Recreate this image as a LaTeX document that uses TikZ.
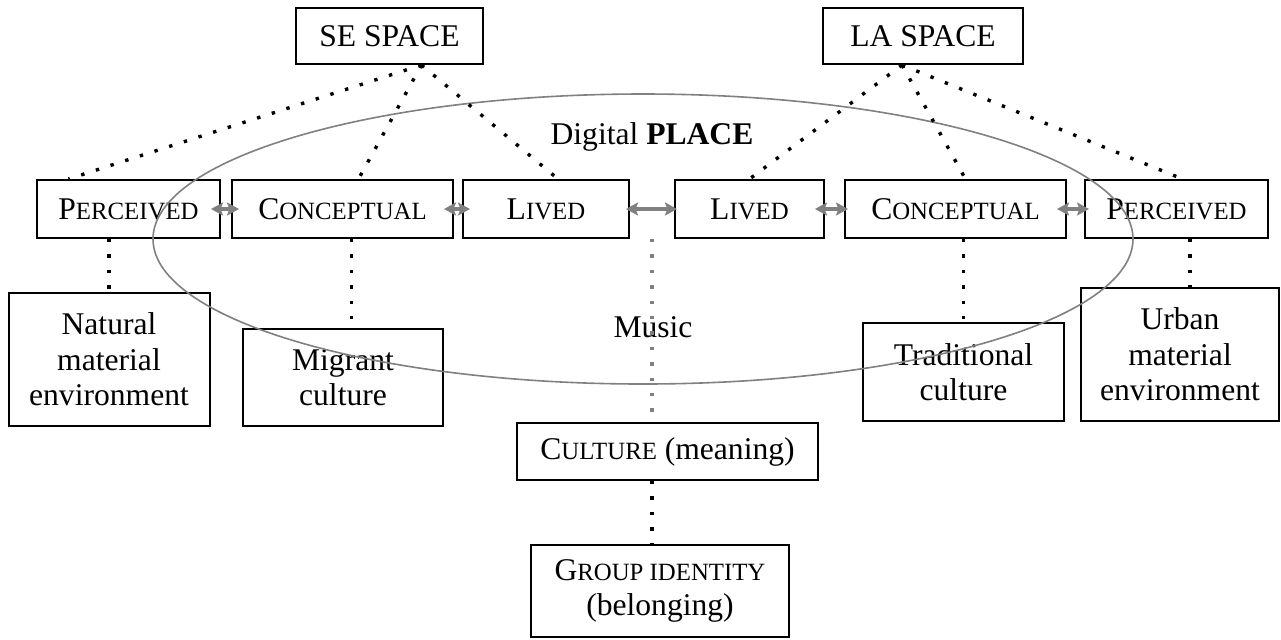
\documentclass[tikz,border=0pt]{standalone}
\usepackage{fontspec}
\setmainfont{Liberation Serif}
\usepackage{tikz}
\usetikzlibrary{arrows.meta, calc}
\newcommand{\smc}[1]{{\fontsize{12.4}{14}\selectfont #1}}

\begin{document}
\begin{tikzpicture}[x=0.5pt, y=-0.5pt,
  font=\fontsize{15.8}{17.8}\selectfont,
  caixa/.style={draw, line width=1pt, inner sep=0pt, align=center},
  pontos/.style={line width=1.7pt, dash pattern=on 1.7pt off 6pt},
  seta/.style={{Stealth[length=6pt,width=6.5pt,inset=1.2pt]}-{Stealth[length=6pt,width=6.5pt,inset=1.2pt]},
    line width=2pt, draw=black!50, shorten <=-5pt, shorten >=-4pt}]
\useasboundingbox (0,0) rectangle (1281,639);

% Espaços
\node[caixa, minimum width=93.5pt, minimum height=28pt] (se) at (389.5,36) {SE SPACE};
\node[caixa, minimum width=100pt, minimum height=28pt] (la) at (923,36) {LA SPACE};

% Fila do meio
\node[caixa, minimum width=91.5pt, minimum height=29pt] (pl) at (128.5,209) {P\smc{ERCEIVED}};
\node[caixa, minimum width=110.5pt, minimum height=29pt] (cl) at (342.5,209) {C\smc{ONCEPTUAL}};
\node[caixa, minimum width=83pt, minimum height=29pt] (ll) at (546,209) {L\smc{IVED}};
\node[caixa, minimum width=74.5pt, minimum height=29pt] (lr) at (749.5,209) {L\smc{IVED}};
\node[caixa, minimum width=110.5pt, minimum height=29pt] (cr) at (955.5,209) {C\smc{ONCEPTUAL}};
\node[caixa, minimum width=91.5pt, minimum height=29pt] (pr) at (1176.5,209) {P\smc{ERCEIVED}};

% Caixas de baixo
\node[caixa, minimum width=100.5pt, minimum height=66.5pt] (nat) at (109,359.5) {Natural\\material\\environment};
\node[caixa, minimum width=100pt, minimum height=48.5pt] (mig) at (343,377.5) {Migrant\\culture};
\node[caixa, minimum width=100.5pt, minimum height=49pt] (trad) at (963.5,372) {Traditional\\culture};
\node[caixa, minimum width=99pt, minimum height=66.5pt] (urb) at (1180,354.5) {Urban\\material\\environment};
\node[caixa, minimum width=150.5pt, minimum height=28.5pt] (cult) at (667.5,451.5) {C\smc{ULTURE} (meaning)};
\node[caixa, minimum width=129pt, minimum height=46pt] (grp) at (660,591) {G\smc{ROUP IDENTITY}\\(belonging)};

% Lugar digital
\draw[black!50, line width=0.8pt] (643,239) ellipse [x radius=245pt, y radius=72.5pt];
\node (dig) at (652,137) {Digital \textbf{PLACE}};
\node (mus) at (653,327) {Music};

% Setas
\draw[seta] (pl) -- (cl);
\draw[seta] (cl) -- (ll);
\draw[seta, shorten <=-2pt, shorten >=-1.5pt] (ll) -- (lr);
\draw[seta, shorten >=-2pt] (lr) -- (cr);
\draw[seta, shorten >=-2.5pt] (cr) -- (pr);

% Ligações pontilhadas
\draw[pontos] ([xshift=16pt]se.south) -- ([xshift=-30pt]pl.north);
\draw[pontos] ([xshift=16pt]se.south) -- ([xshift=8pt]cl.north);
\draw[pontos] ([xshift=16pt]se.south) -- ([xshift=6pt]ll.north);
\draw[pontos] ([xshift=-10.5pt]la.south) -- (lr.north);
\draw[pontos] ([xshift=-10.5pt]la.south) -- ([xshift=5pt]cr.north);
\draw[pontos] ([xshift=-10.5pt]la.south) -- ([xshift=3pt]pr.north);

\draw[pontos] (pl.south -| nat.north) -- (nat.north);
\draw[pontos] ([xshift=4.5pt]cl.south) -- ([xshift=4.5pt]cl.south |- mig.north);
\draw[pontos] (trad.north |- cr.south) -- (trad.north);
\draw[pontos] ([xshift=5pt]urb.north |- pr.south) -- ([xshift=5pt]urb.north);

\coordinate (meio) at ($(ll.south east)!0.5!(lr.south west)$);
\draw[pontos, black!50] (meio) -- (meio |- cult.north);
\draw[pontos] (meio |- cult.south) -- (meio |- grp.north);
\end{tikzpicture}
\end{document}
